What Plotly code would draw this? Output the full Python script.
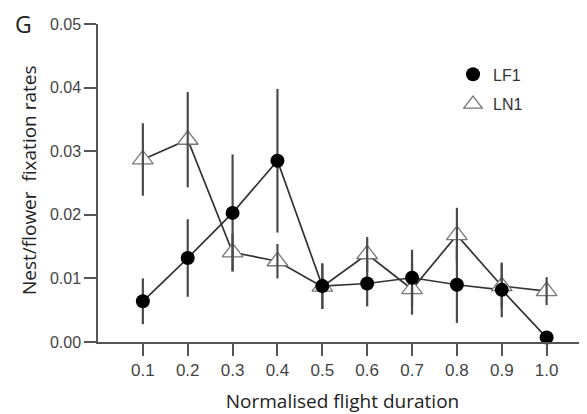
import plotly.graph_objects as go

x_vals = [0.1, 0.2, 0.3, 0.4, 0.5, 0.6, 0.7, 0.8, 0.9, 1.0]
lf1_mean = [0.0064, 0.0132, 0.0203, 0.0285, 0.0088, 0.0092, 0.0101, 0.0090, 0.0082, 0.0007]
lf1_err = [0.0036, 0.0061, 0.0092, 0.0113, 0.0036, 0.0036, 0.0044, 0.0060, 0.0043, 0.0]
ln1_mean = [0.0287, 0.0318, 0.0141, 0.0127, 0.0087, 0.0138, 0.0083, 0.0168, 0.0088, 0.0080]
ln1_err = [0.0057, 0.0075, 0.0030, 0.0027, 0.0035, 0.0027, 0.0040, 0.0043, 0.0035, 0.0022]
x_ticks = [0.1, 0.2, 0.3, 0.4, 0.5, 0.6, 0.7, 0.8, 0.9, 1.0]
x_tick_text = ["0.1", "0.2", "0.3", "0.4", "0.5", "0.6", "0.7", "0.8", "0.9", "1.0"]
y_ticks = [0.0, 0.01, 0.02, 0.03, 0.04, 0.05]
y_tick_text = ["0.00", "0.01", "0.02", "0.03", "0.04", "0.05"]

line_col = "#333333"
bar_col = "#4a4a4a"

fig = go.Figure()
# connecting lines
fig.add_trace(go.Scatter(x=x_vals, y=lf1_mean, mode="lines",
                         line=dict(color=line_col, width=1.7), showlegend=False, hoverinfo="skip"))
fig.add_trace(go.Scatter(x=x_vals, y=ln1_mean, mode="lines",
                         line=dict(color=line_col, width=1.7), showlegend=False, hoverinfo="skip"))
# LN1 triangles
fig.add_trace(go.Scatter(x=x_vals, y=ln1_mean, mode="markers", name="LN1",
                         legendgroup="b", legendrank=2,
                         marker=dict(symbol="triangle-up", size=18, color="white",
                                     line=dict(color="#777777", width=1.3))))
# error bars on top
fig.add_trace(go.Scatter(x=x_vals, y=ln1_mean, mode="markers", showlegend=False,
                         marker=dict(size=1, opacity=0),
                         error_y=dict(type="data", array=ln1_err, visible=True,
                                      color=bar_col, thickness=2.2, width=0)))
fig.add_trace(go.Scatter(x=x_vals, y=lf1_mean, mode="markers", showlegend=False,
                         marker=dict(size=1, opacity=0),
                         error_y=dict(type="data", array=lf1_err, visible=True,
                                      color=bar_col, thickness=2.2, width=0)))
# LF1 circles
fig.add_trace(go.Scatter(x=x_vals, y=lf1_mean, mode="markers", name="LF1",
                         legendgroup="a", legendrank=1,
                         marker=dict(symbol="circle", size=14, color="black")))

fig.update_traces(cliponaxis=False)

# page body has an 8px margin, so the figure is sized to fit the window
W, H = 579, 406
ML, MT, MB, MR = 90, 16, 72, 0
PW, PH = W - ML - MR, H - MT - MB

axis_col = "#555555"
title_font = dict(family="Open Sans", size=19, color="#222222")
fig.update_layout(
    width=W, height=H,
    margin=dict(l=ML, r=MR, t=MT, b=MB),
    paper_bgcolor="white", plot_bgcolor="white",
    font=dict(family="Liberation Sans", color="#333333", size=16),
    showlegend=True,
    legend=dict(x=0.726, y=0.895, xanchor="left", yanchor="top",
                traceorder="grouped", bgcolor="rgba(0,0,0,0)",
                font=dict(family="Liberation Sans", size=16, color="#333333"),
                tracegroupgap=6),
    xaxis=dict(range=[0, 1.09], tickvals=x_ticks, ticktext=x_tick_text,
               showgrid=False, zeroline=False, showline=True, linecolor=axis_col,
               linewidth=1.5, ticks="outside", ticklen=12, tickwidth=1.5, tickcolor=axis_col,
               tickfont=dict(family="Liberation Sans", size=17, color="#444444"),
               title=dict(text="Normalised flight duration", font=title_font, standoff=16)),
    yaxis=dict(range=[0, 0.05], tickvals=y_ticks, ticktext=y_tick_text,
               showgrid=False, zeroline=False, showline=True, linecolor=axis_col,
               linewidth=1.5, ticks="outside", ticklen=12, tickwidth=1.5, tickcolor=axis_col,
               tickfont=dict(family="Liberation Sans", size=16, color="#444444")),
    annotations=[
        dict(text="G", xref="paper", yref="paper", x=(15 - ML) / PW, y=1.0,
             xanchor="center", yanchor="middle", showarrow=False,
             font=dict(family="Open Sans", size=23, color="#222222")),
        dict(text="Nest/flower  fixation rates", xref="paper", yref="paper",
             x=(21 - ML) / PW, y=1 - (172 - MT) / PH, textangle=-90,
             xanchor="center", yanchor="middle", showarrow=False, font=title_font),
    ],
)

fig.write_html("out.html")
